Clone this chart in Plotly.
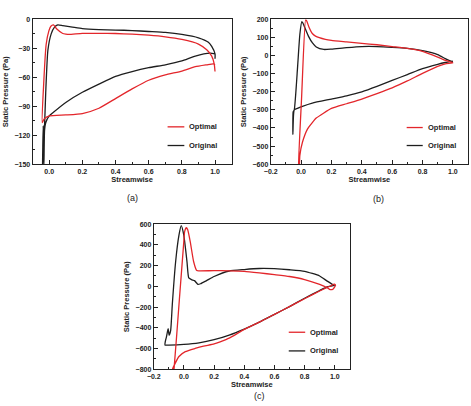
import plotly.graph_objects as go

# ---------------- data ----------------
# (a)
a_opt_x = [1.0, 0.995, 0.98, 0.95, 0.9, 0.8, 0.7, 0.6, 0.5, 0.4, 0.3, 0.2, 0.12, 0.1, 0.082, 0.046, 0.026, 0.01, -0.002,
           -0.018, -0.033, -0.042, -0.03, 0.002, 0.1, 0.2, 0.3, 0.4, 0.5, 0.6, 0.7, 0.8, 0.881, 0.95, 0.99, 1.0]
a_opt_y = [-54, -46, -38, -31.5, -25.5, -20.7, -18, -16.3, -15.2, -14.6, -14.4, -14.4, -15.5, -15.2, -14.6, -10, -5.7, -7,
           -11.8, -25.5, -66, -107, -103, -100, -99, -97.5, -92, -82, -72, -63, -57.5, -53.5, -49, -47, -46, -47]
a_org_x = [1.0, 1.0, 0.98, 0.96, 0.9, 0.8, 0.7, 0.6, 0.5, 0.4, 0.3, 0.2, 0.14, 0.082, 0.052, 0.032, 0.012, -0.008,
           -0.021, -0.03, -0.04, -0.036, -0.032, -0.028, -0.021, 0.0, 0.022, 0.1, 0.2, 0.3, 0.4, 0.5, 0.6, 0.7, 0.8,
           0.881, 0.97, 1.0]
a_org_y = [-40.7, -35.6, -28, -23.7, -19, -15.5, -13.5, -12.5, -11.5, -11, -10.5, -9.5, -8, -6.5, -5.7, -8, -15, -32,
           -76, -120, -152, -110, -152, -115, -107, -100, -96.7, -86, -75.5, -67, -59, -54, -50, -47, -43, -38, -35,
           -35.6]

# (b)
b_opt_x = [1.0, 0.95, 0.9, 0.8, 0.7, 0.6, 0.5, 0.4, 0.3, 0.2, 0.16, 0.095, 0.074, 0.053, 0.038, 0.03, 0.003, -0.02,
           -0.012, -0.008, 0.009, 0.042, 0.074, 0.1, 0.2, 0.3, 0.4, 0.5, 0.6, 0.7, 0.8, 0.9, 0.95, 1.0]
b_opt_y = [-40, -26, -8, 24, 40, 50, 60, 68, 76, 84, 90, 108, 122, 155, 190, 200, -240, -660,
           -620, -551, -479, -406, -370, -345, -292, -266, -240, -210, -178, -140, -98, -59, -45, -40]
b_org_x = [1.0, 0.95, 0.9, 0.8, 0.7, 0.6, 0.5, 0.4, 0.3, 0.2, 0.15, 0.1, 0.075, 0.05, 0.027, 0.012, 0.005, -0.008,
           -0.023, -0.045, -0.052, -0.054, -0.05, -0.045, -0.02, 0.009, 0.074, 0.2, 0.3, 0.4, 0.5, 0.6, 0.7, 0.8,
           0.9, 0.95, 1.0]
b_org_y = [-37, -17, 5, 27, 40, 46, 50, 50, 44, 36, 34, 48, 70, 105, 150, 180, 188, 118,
           -62, -300, -310, -435, -330, -300, -290, -280, -262, -240, -222, -200, -170, -137, -105, -72,
           -48, -38, -30]

# (c)
c_opt_x = [1.0, 1.005, 0.99, 0.97, 0.95, 0.9, 0.8, 0.7, 0.6, 0.5, 0.4, 0.3, 0.2, 0.105, 0.085, 0.064, 0.042, 0.025,
           0.016, 0.005, -0.001, -0.03, -0.066, -0.075, -0.085, -0.077, -0.033, 0.009, 0.074, 0.13, 0.2, 0.24, 0.3,
           0.4, 0.5, 0.6, 0.7, 0.8, 0.9, 0.95, 0.98, 1.0]
c_opt_y = [20, 10, -25, -32, -14, 18, 66, 95, 113, 130, 145, 150, 151, 150, 152, 240, 429, 545,
           565, 530, 429, -120, -803, -900, -900, -803, -677, -630, -599, -577, -555, -535, -500,
           -415, -345, -270, -195, -120, -45, -10, 10, 25]
c_org_x = [1.0, 0.95, 0.9, 0.8, 0.7, 0.6, 0.5, 0.4, 0.3, 0.2, 0.15, 0.11, 0.092, 0.07, 0.05, 0.032, 0.02, -0.001,
           -0.018, -0.033, -0.055, -0.077, -0.088, -0.098, -0.105, -0.116, -0.124, -0.126, -0.1, 0.0, 0.1, 0.2,
           0.3, 0.4, 0.5, 0.6, 0.7, 0.8, 0.9, 0.95, 1.0]
c_org_y = [5, 50, 100, 145, 160, 170, 172, 162, 148, 95, 55, 25, 20, 55, 65, 81, 240, 493,
           585, 493, 240, -171, -424, -471, -408, -487, -535, -566, -566, -560, -545, -515,
           -470, -412, -345, -270, -195, -115, -40, -5, 10]

series_names = ["Optimal", "Original"]
panel_labels = ["(a)", "(b)", "(c)"]
a_yticks = [-150, -120, -90, -60, -30, 0]
b_yticks = [-600, -500, -400, -300, -200, -100, 0, 100, 200]
c_yticks = [-800, -600, -400, -200, 0, 200, 400, 600]
a_xticks = [0.0, 0.2, 0.4, 0.6, 0.8, 1.0]
bc_xticks = [-0.2, 0.0, 0.2, 0.4, 0.6, 0.8, 1.0]

RED = "#e3262b"
BLACK = "#1e1e1e"
W, H = 471, 406
FONT = "Liberation Sans"

fig = go.Figure()
panels = [
    (a_opt_x, a_opt_y, a_org_x, a_org_y, "x", "y"),
    (b_opt_x, b_opt_y, b_org_x, b_org_y, "x2", "y2"),
    (c_opt_x, c_opt_y, c_org_x, c_org_y, "x3", "y3"),
]
for ox, oy, gx, gy, xa, ya in panels:
    fig.add_trace(go.Scatter(x=gx, y=gy, mode="lines", line=dict(color=BLACK, width=1.3, shape="spline", smoothing=0.5),
                             xaxis=xa, yaxis=ya, showlegend=False))
    fig.add_trace(go.Scatter(x=ox, y=oy, mode="lines", line=dict(color=RED, width=1.3, shape="spline", smoothing=0.5),
                             xaxis=xa, yaxis=ya, showlegend=False))


def px_dom(x0, x1):
    return [x0 / W, x1 / W]


def py_dom(ytop, ybot):
    return [1 - ybot / H, 1 - ytop / H]


tickfont = dict(family=FONT, size=7, color="#222", weight="bold")
titlefont = dict(family=FONT, size=7.5, color="#222", weight="bold")


def xaxis(dom, rng, ticks, anchor):
    return dict(domain=dom, range=rng, tickvals=ticks, tickformat=".1f", ticks="inside", ticklen=4,
                tickwidth=1, tickcolor="#222", showline=True, linecolor="#222", linewidth=1, mirror=True,
                showgrid=False, zeroline=False, tickfont=tickfont, anchor=anchor,
                title=dict(text="Streamwise", font=titlefont, standoff=3),
                minor=dict(dtick=0.1, tick0=0, ticks="inside", ticklen=2, tickcolor="#222", showgrid=False))


def yaxis(dom, rng, ticks, minor, anchor):
    return dict(domain=dom, range=rng, tickvals=ticks, ticks="inside", ticklen=4, tickwidth=1, tickcolor="#222",
                showline=True, linecolor="#222", linewidth=1, mirror=True, showgrid=False, zeroline=False,
                tickfont=tickfont, anchor=anchor,
                title=dict(text="Static Pressure (Pa)", font=titlefont, standoff=4),
                minor=dict(dtick=minor, tick0=0, ticks="inside", ticklen=2, tickcolor="#222", showgrid=False))


fig.update_layout(
    width=W, height=H, margin=dict(l=0, r=0, t=0, b=0),
    paper_bgcolor="white", plot_bgcolor="white",
    xaxis=xaxis(px_dom(26, 228), [-0.1, 1.1], a_xticks, "y"),
    yaxis=yaxis(py_dom(15.7, 163), [-150, 0], a_yticks, 15, "x"),
    xaxis2=xaxis(px_dom(267.7, 468), [-0.2, 1.1], bc_xticks, "y2"),
    yaxis2=yaxis(py_dom(15.7, 163), [-600, 200], b_yticks, 50, "x2"),
    xaxis3=xaxis(px_dom(149, 348), [-0.2, 1.1], bc_xticks, "y3"),
    yaxis3=yaxis(py_dom(224, 371.7), [-800, 600], c_yticks, 100, "x3"),
)

# legends (line samples + labels) and panel labels
legend_pos = [(163, 180, 125, 144), (405.7, 422, 125.7, 144), (286, 302.7, 334, 353)]
for lx0, lx1, ly0, ly1 in legend_pos:
    for yy, col, name in [(ly0, RED, series_names[0]), (ly1, BLACK, series_names[1])]:
        fig.add_shape(type="line", xref="paper", yref="paper", x0=lx0 / W, x1=lx1 / W,
                      y0=1 - yy / H, y1=1 - yy / H, line=dict(color=col, width=1.3))
        fig.add_annotation(x=(lx1 + 3) / W, y=1 - yy / H, xref="paper", yref="paper", text=name,
                           showarrow=False, xanchor="left", yanchor="middle",
                           font=dict(family=FONT, size=7.5, color="#222", weight="bold"))

for lab, (cx, cy) in zip(panel_labels, [(127, 197), (377, 198), (256, 399)]):
    fig.add_annotation(x=cx / W, y=1 - cy / H, xref="paper", yref="paper", text=lab, showarrow=False,
                       xanchor="center", yanchor="middle", font=dict(family=FONT, size=9, color="#222"))

fig.write_html("out.html")
